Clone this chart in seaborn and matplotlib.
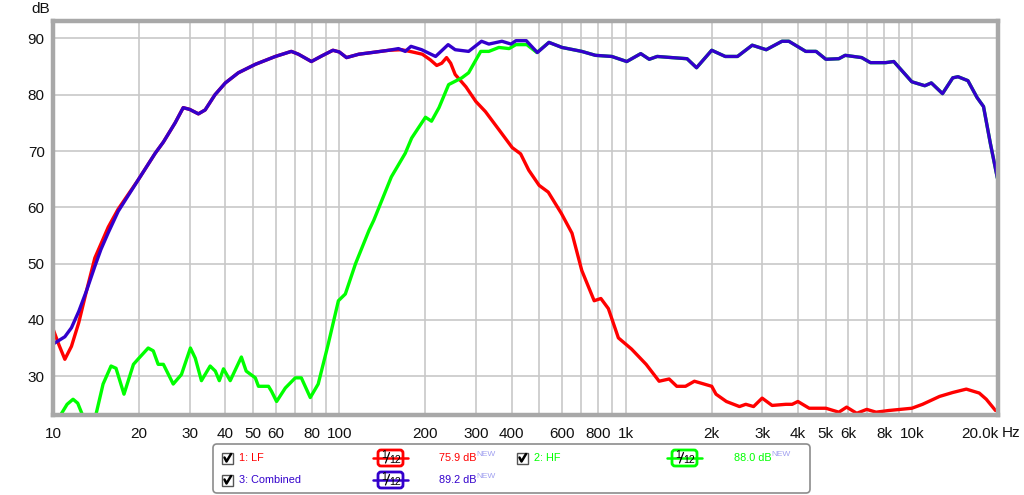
import matplotlib
matplotlib.use('Agg')
import matplotlib.pyplot as plt
import seaborn as sns
import pandas as pd
from matplotlib.patches import FancyBboxPatch, Rectangle
from matplotlib.lines import Line2D
from matplotlib.transforms import IdentityTransform

# --- data (frequency in Hz, level in dB) ---
freq_lf = [10.0, 10.5, 11.0, 11.6, 12.3, 13.1, 14.0, 15.0, 15.6, 16.9, 19.8, 22.75, 24.3, 26.7, 28.5, 30.0,
           32.2, 34.0, 36.8, 40.0, 44.4, 50.9, 59.8, 68.0, 72.0, 79.9, 86.9, 95.0, 100, 106, 117, 130, 149,
           165, 180, 195, 208, 219, 228, 237, 245, 254, 277, 300, 324, 361, 402, 430, 459, 499, 537, 597,
           650, 703, 777, 820, 871, 944, 1050, 1180, 1310, 1420, 1510, 1620, 1740, 2000, 2070, 2250, 2500,
           2630, 2800, 3000, 3250, 3630, 3820, 4000, 4380, 5010, 5560, 5920, 6420, 6960, 7500, 8310, 10000,
           10900, 12500, 13900, 15500, 17200, 18200, 19600]
db_lf = [38.4, 35.5, 33.0, 35.3, 39.5, 45.2, 51.0, 54.5, 56.5, 59.7, 64.8, 69.6, 71.6, 75.0, 77.7, 77.4,
         76.6, 77.3, 80.0, 82.1, 83.9, 85.4, 86.8, 87.7, 87.2, 85.9, 86.9, 87.9, 87.6, 86.6, 87.2, 87.5, 87.9,
         88.0, 87.6, 87.2, 86.2, 85.2, 85.6, 86.6, 85.6, 83.6, 81.4, 78.8, 77.0, 73.8, 70.6, 69.5, 66.6, 63.9,
         62.7, 58.9, 55.4, 48.8, 43.4, 43.8, 42.0, 36.8, 34.8, 32.1, 29.1, 29.5, 28.2, 28.2, 29.1, 28.2, 26.8,
         25.5, 24.6, 25.0, 24.6, 26.1, 24.8, 25.0, 25.0, 25.5, 24.3, 24.3, 23.6, 24.5, 23.4, 24.1, 23.6, 23.9,
         24.3, 25.0, 26.4, 27.1, 27.7, 27.0, 25.9, 23.9]

freq_hf = [10.0, 10.6, 11.2, 11.75, 12.2, 12.7, 13.4, 14.1, 14.96, 15.95, 16.6, 17.7, 19.1, 19.8, 21.5,
           22.4, 23.3, 24.3, 26.3, 28.1, 30.2, 31.4, 33.0, 35.4, 36.9, 38.1, 39.4, 41.6, 45.5, 47.3, 50.9,
           52.2, 56.6, 58.0, 60.4, 64.8, 70.2, 73.7, 79.2, 84.4, 91.5, 99.3, 105, 114, 127, 132, 152, 170,
           179, 200, 210, 223, 241, 268, 283, 312, 333, 361, 392, 414, 452, 490, 540, 600, 703, 785, 895,
           1010, 1130, 1210, 1290, 1450, 1640, 1770, 2000, 2230, 2460, 2770, 3100, 3520, 3720, 4260, 4630,
           5010, 5560, 5850, 6680, 7170, 8100, 8650, 10000, 11100, 11700, 12800, 13900, 14500, 15700, 16900,
           17800, 18800, 19900]
db_hf = [19.0, 23.0, 25.0, 25.9, 25.2, 23.0, 19.5, 23.0, 28.6, 31.8, 31.4, 26.8, 32.1, 33.0, 35.0, 34.5,
         32.1, 32.1, 28.6, 30.3, 35.0, 33.2, 29.2, 31.8, 30.9, 29.2, 31.3, 29.2, 33.4, 30.9, 29.7, 28.2, 28.2,
         27.3, 25.5, 27.9, 29.7, 29.7, 26.2, 28.6, 35.7, 43.4, 44.6, 50.0, 55.9, 57.7, 65.4, 69.6, 72.3, 76.0,
         75.3, 77.7, 81.8, 83.0, 83.9, 87.7, 87.7, 88.4, 88.2, 88.9, 88.9, 87.5, 89.3, 88.4, 87.7, 87.0, 86.8,
         85.9, 87.3, 86.3, 86.8, 86.6, 86.4, 84.8, 87.9, 86.8, 86.8, 88.8, 88.0, 89.5, 89.5, 87.7, 87.7, 86.3,
         86.4, 87.0, 86.6, 85.7, 85.7, 85.9, 82.3, 81.6, 82.1, 80.2, 83.0, 83.2, 82.5, 79.5, 77.9, 71.4, 65.2]

freq_comb = [10.0, 11.0, 11.6, 12.3, 13.1, 14.0, 14.7, 15.6, 16.9, 19.8, 22.75, 24.3, 26.7, 28.5, 30.0,
             32.2, 34.0, 36.8, 40.0, 44.4, 50.9, 59.8, 68.0, 72.0, 79.9, 86.9, 95.0, 100, 106, 117, 130, 149,
             161, 170, 178, 194, 217, 240, 254, 283, 314, 333, 370, 398, 414, 450, 492, 540, 600, 703, 785,
             895, 1010, 1130, 1210, 1290, 1450, 1640, 1770, 2000, 2230, 2460, 2770, 3100, 3520, 3720, 4260,
             4630, 5010, 5560, 5850, 6680, 7170, 8100, 8650, 10000, 11100, 11700, 12800, 13900, 14500, 15700,
             16900, 17800, 18800, 19900]
db_comb = [35.7, 37.0, 38.6, 41.5, 45.2, 49.5, 52.5, 55.5, 59.3, 64.8, 69.6, 71.6, 75.0, 77.7, 77.4, 76.6,
           77.3, 80.0, 82.1, 83.9, 85.4, 86.8, 87.7, 87.2, 85.9, 86.9, 87.9, 87.6, 86.6, 87.2, 87.5, 87.9, 88.2,
           87.7, 88.6, 88.0, 86.8, 88.9, 88.0, 87.7, 89.5, 89.0, 89.5, 89.0, 89.6, 89.6, 87.5, 89.3, 88.4, 87.7,
           87.0, 86.8, 85.9, 87.3, 86.3, 86.8, 86.6, 86.4, 84.8, 87.9, 86.8, 86.8, 88.8, 88.0, 89.5, 89.5, 87.7,
           87.7, 86.3, 86.4, 87.0, 86.6, 85.7, 85.7, 85.9, 82.3, 81.6, 82.1, 80.2, 83.0, 83.2, 82.5, 79.5, 77.9,
           71.4, 65.2]

curve_names = ['1: LF', '2: HF', '3: Combined']
curve_colors = ['#FF0000', '#00FF00', '#3300CC']
curve_levels = ['75.9 dB', '88.0 dB', '89.2 dB']

grid_freqs = [10, 20, 30, 40, 50, 60, 70, 80, 90, 100, 200, 300, 400, 500, 600, 700, 800, 900,
              1000, 2000, 3000, 4000, 5000, 6000, 7000, 8000, 9000, 10000, 20000]
grid_labels = ['10', '20', '30', '40', '50', '60', '', '80', '', '100', '200', '300', '400', '', '600', '',
               '800', '', '1k', '2k', '3k', '4k', '5k', '6k', '', '8k', '', '10k', '20.0k']
db_ticks = [30, 40, 50, 60, 70, 80, 90]

df = pd.concat([
    pd.DataFrame({'freq': freq_lf, 'dB': db_lf, 'curve': curve_names[0]}),
    pd.DataFrame({'freq': freq_hf, 'dB': db_hf, 'curve': curve_names[1]}),
    pd.DataFrame({'freq': freq_comb, 'dB': db_comb, 'curve': curve_names[2]}),
], ignore_index=True)

sns.set_style('white')
plt.rcParams['font.family'] = ['Liberation Sans', 'DejaVu Sans']

W, H = 1024, 495
fig = plt.figure(figsize=(W / 100, H / 100), dpi=100)
ax = fig.add_axes([53 / W, 1 - 415 / H, (998 - 53) / W, (415 - 21) / H])

sns.lineplot(data=df, x='freq', y='dB', hue='curve', hue_order=curve_names,
             palette=dict(zip(curve_names, curve_colors)), estimator=None, sort=False,
             linewidth=2.4, legend=False, ax=ax, solid_joinstyle='round', solid_capstyle='round')

ax.set_xscale('log')
ax.set_xlim(10, 20000)
ax.set_ylim(23.1, 93.1)
ax.set_xticks(grid_freqs)
ax.set_xticklabels(grid_labels)
ax.minorticks_off()
ax.set_yticks(db_ticks)
ax.set_yticklabels([str(v) for v in db_ticks])
ax.grid(True, color='#C8C8C8', linewidth=1.2)
ax.set_axisbelow(True)
ax.tick_params(axis='both', length=0, labelsize=11, colors='#111111')
ax.tick_params(axis='x', pad=9)
ax.tick_params(axis='y', pad=6)
ax.xaxis.get_ticklabels()[-1].set_horizontalalignment('right')
ax.set_xlabel('')
ax.set_ylabel('')
for sp in ax.spines.values():
    sp.set_color('#A8A8A8')
    sp.set_linewidth(3.2)

fig.text(41 / W, 1 - 9 / H, 'dB', ha='center', va='center', fontsize=11, color='#111111')
fig.text(1002 / W, 1 - 433 / H, 'Hz', ha='left', va='center', fontsize=11, color='#111111')

# --- legend panel (drawn in pixel coordinates) ---
T = IdentityTransform()


def Y(y):
    return H - y


fig.patches.append(FancyBboxPatch((213, Y(493)), 597, 49, boxstyle='round,pad=0,rounding_size=4',
                                  transform=T, facecolor='white', edgecolor='#8C8C8C', linewidth=1.2))


def checkbox(x, y):
    fig.patches.append(Rectangle((x, Y(y) - 5.5), 11, 11, transform=T, facecolor='white',
                                 edgecolor='#555555', linewidth=1))
    fig.lines.append(Line2D([x + 2.5, x + 4.5, x + 9], [Y(y) + 0.5, Y(y) - 3.5, Y(y) + 4], transform=T,
                            color='black', linewidth=1.8))


def smooth_icon(x, y, color):
    # "1/12" smoothing badge
    fig.lines.append(Line2D([x, x + 35], [Y(y), Y(y)], transform=T, color=color, linewidth=1.8))
    fig.patches.append(FancyBboxPatch((x + 5, Y(y) - 8), 25, 16, boxstyle='round,pad=0,rounding_size=3',
                                      transform=T, facecolor='white', edgecolor=color, linewidth=2))
    fig.text(x + 11.5, Y(y) + 2.5, '1', transform=T, ha='center', va='center', fontsize=7.5, color='black')
    fig.lines.append(Line2D([x + 12.5, x + 16.5], [Y(y) - 5, Y(y) + 5.5], transform=T, color='black',
                            linewidth=0.9))
    fig.text(x + 22, Y(y) - 2, '12', transform=T, ha='center', va='center', fontsize=7.5, color='black')


rows = [(222, 458, 373, 439), (517, 458, 667, 734), (222, 480, 373, 439)]
for (cx, cy, ix, lx), name, color, level in zip(rows, curve_names, curve_colors, curve_levels):
    checkbox(cx, cy)
    fig.text(cx + 17, Y(cy), name, transform=T, ha='left', va='center', fontsize=7.8, color=color)
    smooth_icon(ix, cy, color)
    fig.text(lx, Y(cy), level, transform=T, ha='left', va='center', fontsize=7.8, color=color)
    fig.text(lx + 37, Y(cy) + 4, 'NEW', transform=T, ha='left', va='center', fontsize=6, color='#A0A0F0')

fig.savefig('out.png', dpi=100, facecolor='white')
